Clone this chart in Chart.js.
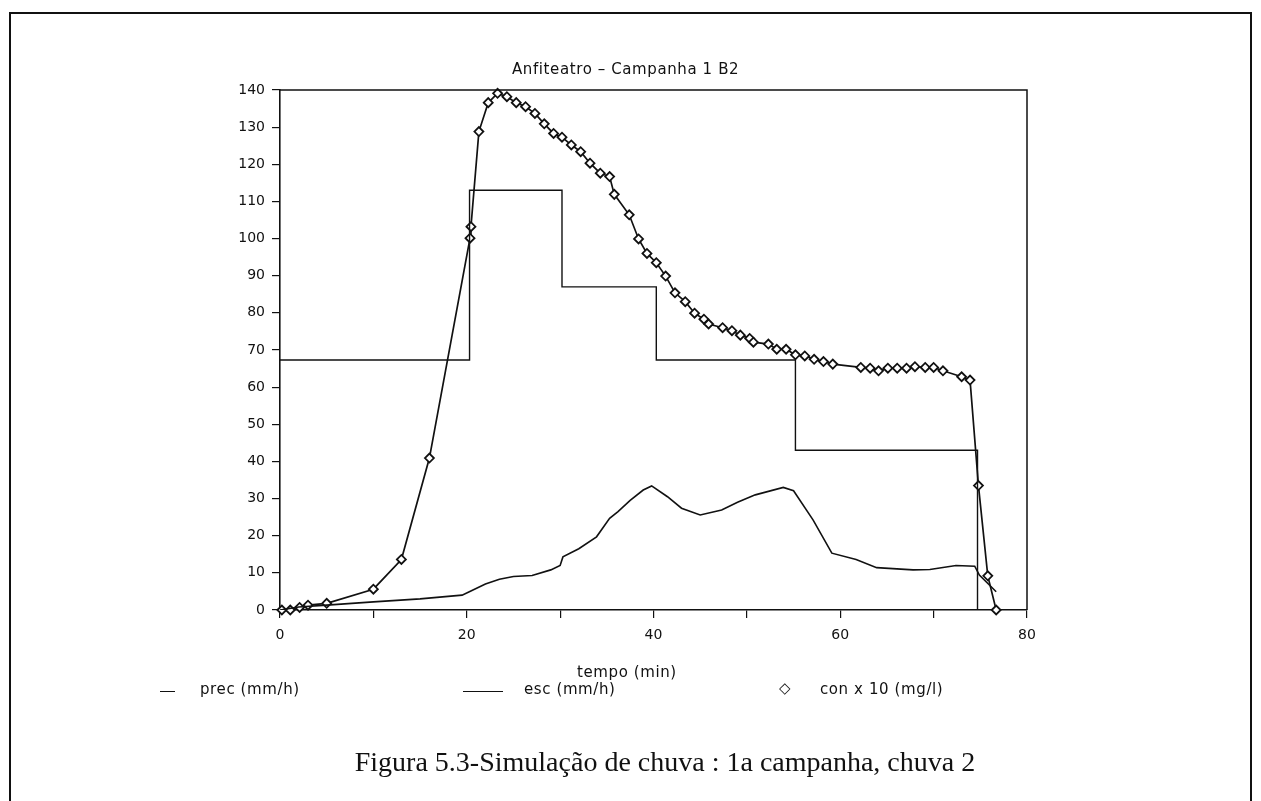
<!DOCTYPE html>
<html>
<head>
<meta charset="utf-8">
<script src="https://cdn.jsdelivr.net/npm/chart.js@4.4.1/dist/chart.umd.min.js"></script>
<style>
  body { margin: 0; background: #fff; width: 1261px; height: 801px; overflow: hidden; position: relative; font-family: "DejaVu Sans", sans-serif; }
  #moldura { position: absolute; left: 9px; top: 12px; width: 1239px; height: 900px; border: 2px solid #111; }
  #c { position: absolute; left: 0; top: 0; }
  .txt { position: absolute; font-size: 15px; letter-spacing: 0.6px; color: #111; white-space: nowrap; }
  .traco { position: absolute; border-top: 1.6px solid #111; }
  #caption { position: absolute; left: 0; width: 1330px; top: 746px; text-align: center; font-family: "Liberation Serif", serif; font-size: 28px; color: #111; }
</style>
</head>
<body>
<div id="moldura"></div>
<canvas id="c" width="1261" height="801"></canvas>

<div class="txt" style="left:512px; top:60px;">Anfiteatro &ndash; Campanha 1 B2</div>
<div class="txt" style="left:577px; top:663px;">tempo (min)</div>

<div class="traco" style="left:160px; top:691px; width:15px;"></div>
<div class="txt" style="left:200px; top:680px;">prec (mm/h)</div>
<div class="traco" style="left:463px; top:691px; width:40px;"></div>
<div class="txt" style="left:524px; top:680px;">esc (mm/h)</div>
<div class="txt" style="left:779px; top:679px; letter-spacing:0;">&#9671;</div>
<div class="txt" style="left:820px; top:680px;">con x 10 (mg/l)</div>

<div id="caption">Figura 5.3-Simulação de chuva : 1a campanha, chuva 2</div>

<script>
// precipitacao (degraus)
const precT = [0, 20.3, 30.2, 40.3, 55.2, 74.7];
const precV = [67.3, 113, 87, 67.3, 43, 0];

// escoamento
const escT = [0, 2, 5, 10, 15, 19.5, 20.5, 22, 23.5, 25, 27, 29, 30, 30.3, 32, 33.9, 35.3, 36.2, 37.5, 38.9, 39.8,
  41.5, 43, 45, 47.3, 49, 50.9, 53.9, 55, 57.1, 59.1, 61.7, 63.9, 67.8, 69.6, 72.4, 74.4, 74.9, 76.7];
const escV = [0, 0.8, 1.3, 2.2, 3.0, 4.0, 5.2, 7, 8.3, 9.0, 9.3, 10.8, 12, 14.3, 16.5, 19.7, 24.7, 26.5, 29.5, 32.3, 33.4,
  30.5, 27.4, 25.6, 26.9, 29, 31, 33, 32.1, 24.2, 15.3, 13.6, 11.4, 10.8, 10.9, 12.0, 11.8, 9.4, 4.9];

// concentracao x 10
const conT = [0.2, 1.1, 2.1, 3.0, 5.0, 10.0, 13.0, 16.0, 20.35, 20.45, 21.3, 22.3, 23.3, 24.3, 25.3, 26.3, 27.3, 28.3,
  29.3, 30.2, 31.2, 32.2, 33.2, 34.3, 35.3, 35.8, 37.4, 38.4, 39.3, 40.3, 41.3, 42.3, 43.4, 44.4, 45.4, 45.9, 47.4,
  48.4, 49.3, 50.3, 50.7, 52.3, 53.2, 54.2, 55.2, 56.2, 57.2, 58.2, 59.2, 62.2, 63.2, 64.1, 65.1, 66.1, 67.1, 68.0,
  69.1, 70.0, 71.0, 73.0, 73.9, 74.8, 75.8, 76.7];
const conV = [0, 0, 0.7, 1.3, 1.8, 5.6, 13.6, 40.9, 100.1, 103.2, 128.8, 136.6, 139.1, 138.2, 136.6, 135.5, 133.7, 130.9,
  128.3, 127.3, 125.2, 123.4, 120.3, 117.6, 116.7, 111.9, 106.4, 99.9, 96.0, 93.5, 89.9, 85.4, 83.0, 79.9, 78.3, 77.0, 76.0,
  75.2, 74.0, 73.1, 72.1, 71.6, 70.2, 70.2, 68.7, 68.4, 67.5, 66.9, 66.2, 65.3, 65.1, 64.4, 65.1, 65.1, 65.1, 65.5,
  65.3, 65.3, 64.4, 62.8, 61.9, 33.5, 9.2, 0];

const xTicks = [0, 20, 40, 60, 80];

function pares(xs, ys) {
  return xs.map((x, i) => ({ x: x, y: ys[i] }));
}

// moldura do grafico (lados de cima e da direita)
const caixa = {
  id: 'caixa',
  afterDraw(chart) {
    const a = chart.chartArea;
    const ctx = chart.ctx;
    ctx.save();
    ctx.strokeStyle = '#111';
    ctx.lineWidth = 1.5;
    ctx.beginPath();
    ctx.moveTo(a.left, a.top);
    ctx.lineTo(a.right, a.top);
    ctx.lineTo(a.right, a.bottom);
    ctx.stroke();
    ctx.restore();
  }
};

const fonte = { family: '"DejaVu Sans", sans-serif', size: 14 };

new Chart(document.getElementById('c'), {
  type: 'line',
  data: {
    datasets: [
      {
        label: 'prec (mm/h)',
        data: pares(precT, precV),
        stepped: 'before',
        borderColor: '#111',
        borderWidth: 1.4,
        pointRadius: 0,
        fill: false
      },
      {
        label: 'esc (mm/h)',
        data: pares(escT, escV),
        borderColor: '#111',
        borderWidth: 1.6,
        pointRadius: 0,
        tension: 0,
        fill: false
      },
      {
        label: 'con x 10 (mg/l)',
        data: pares(conT, conV),
        borderColor: '#111',
        borderWidth: 1.7,
        pointStyle: 'rectRot',
        pointRadius: 4.5,
        pointBorderWidth: 1.8,
        pointBackgroundColor: '#fff',
        pointBorderColor: '#111',
        tension: 0,
        clip: false,
        fill: false
      }
    ]
  },
  options: {
    responsive: false,
    animation: false,
    devicePixelRatio: 1,
    layout: { padding: { left: 220, right: 234, top: 90, bottom: 151 } },
    plugins: { legend: { display: false }, tooltip: { enabled: false } },
    scales: {
      x: {
        type: 'linear',
        min: 0,
        max: 80,
        afterFit(scale) { scale.height = 40; },
        ticks: {
          stepSize: 10,
          color: '#111',
          font: fonte,
          padding: 9,
          maxRotation: 0,
          callback: (v) => xTicks.includes(v) ? v : ''
        },
        grid: { drawOnChartArea: false, drawTicks: true, tickLength: 8, color: '#111', lineWidth: 1.2 },
        border: { display: true, color: '#111', width: 1.6 }
      },
      y: {
        min: 0,
        max: 140,
        afterFit(scale) { scale.width = 60; },
        ticks: { stepSize: 10, color: '#111', font: fonte, padding: 7 },
        grid: { drawOnChartArea: false, drawTicks: true, tickLength: 8, color: '#111', lineWidth: 1.2 },
        border: { display: true, color: '#111', width: 1.6 }
      }
    }
  },
  plugins: [caixa]
});
</script>
</body>
</html>
